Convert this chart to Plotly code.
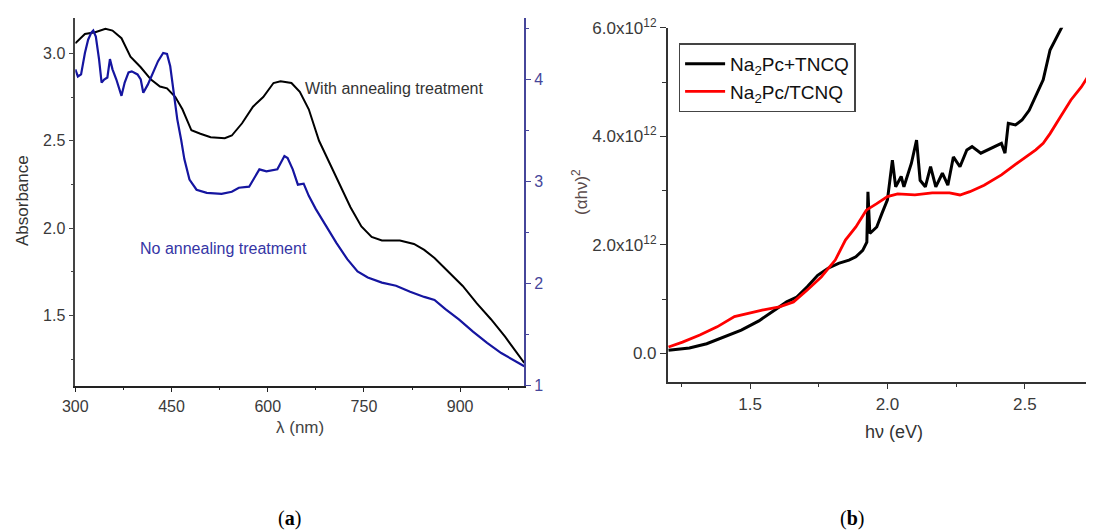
import plotly.graph_objects as go

# ---------------- Panel (a) data ----------------
wl_annealed = [300, 315, 331, 347, 358, 372, 386, 402, 418, 432, 443, 456, 467, 481, 495, 511, 533, 544,
               560, 577, 593, 609, 620, 637, 650, 664, 680, 697, 713, 729, 746, 762, 778, 806, 828, 844,
               860, 882, 904, 926, 948, 970, 986, 1000]
abs_annealed = [3.057, 3.11, 3.12, 3.14, 3.13, 3.086, 2.98, 2.92, 2.85, 2.81, 2.80, 2.75, 2.68, 2.56, 2.54,
                2.52, 2.515, 2.53, 2.60, 2.695, 2.75, 2.83, 2.84, 2.83, 2.78, 2.68, 2.50, 2.37, 2.24, 2.12,
                2.01, 1.95, 1.93, 1.93, 1.91, 1.876, 1.83, 1.75, 1.67, 1.57, 1.48, 1.38, 1.30, 1.23]

wl_raw = [300, 304, 309, 315, 320, 325, 328, 332, 337, 341, 345, 350, 354, 358, 364, 372, 377, 383, 388,
          397, 402, 406, 413, 421, 429, 437, 443, 448, 454, 459, 465, 470, 478, 489, 505, 528, 544, 555,
          571, 587, 598, 615, 626, 631, 639, 647, 656, 664, 675, 691, 707, 724, 740, 756, 778, 800, 822,
          844, 860, 877, 898, 920, 942, 964, 986, 1000]
abs_raw = [4.10, 4.03, 4.05, 4.26, 4.39, 4.46, 4.48, 4.42, 4.20, 3.97, 4.00, 4.02, 4.20, 4.10, 4.00, 3.84,
           3.97, 4.07, 4.08, 4.05, 4.00, 3.87, 3.95, 4.07, 4.18, 4.26, 4.25, 4.13, 3.84, 3.61, 3.41, 3.22,
           3.02, 2.92, 2.89, 2.88, 2.90, 2.94, 2.95, 3.12, 3.10, 3.12, 3.25, 3.23, 3.12, 2.97, 2.98, 2.86,
           2.73, 2.56, 2.40, 2.24, 2.12, 2.06, 2.01, 1.98, 1.92, 1.87, 1.84, 1.75, 1.65, 1.53, 1.42, 1.32,
           1.24, 1.19]

# ---------------- Panel (b) data ----------------
ev_plus = [1.203, 1.279, 1.342, 1.405, 1.468, 1.532, 1.582, 1.633, 1.670, 1.708, 1.746, 1.784, 1.822,
           1.860, 1.885, 1.910, 1.925, 1.929, 1.936, 1.961, 1.980, 2.000, 2.018, 2.030, 2.050, 2.060,
           2.087, 2.106, 2.119, 2.138, 2.157, 2.176, 2.200, 2.220, 2.240, 2.264, 2.289, 2.308, 2.340,
           2.365, 2.390, 2.415, 2.428, 2.440, 2.466, 2.490, 2.516, 2.540, 2.567, 2.592, 2.617, 2.636]
ahv_plus = [0.06, 0.10, 0.18, 0.31, 0.43, 0.60, 0.77, 0.95, 1.04, 1.23, 1.44, 1.57, 1.66, 1.72, 1.78,
            1.90, 2.05, 2.98, 2.21, 2.33, 2.58, 2.83, 3.56, 3.07, 3.26, 3.07, 3.50, 3.93, 3.19, 3.07,
            3.44, 3.07, 3.32, 3.10, 3.62, 3.44, 3.75, 3.81, 3.69, 3.75, 3.81, 3.87, 3.69, 4.24, 4.21,
            4.30, 4.48, 4.73, 5.04, 5.59, 5.84, 6.02]

ev_slash = [1.203, 1.254, 1.317, 1.380, 1.443, 1.494, 1.544, 1.607, 1.658, 1.708, 1.759, 1.810, 1.847,
            1.885, 1.923, 1.961, 2.000, 2.037, 2.100, 2.163, 2.226, 2.264, 2.300, 2.352, 2.415, 2.479,
            2.540, 2.567, 2.592, 2.630, 2.668, 2.706, 2.730, 2.754]
ahv_slash = [0.12, 0.21, 0.34, 0.49, 0.68, 0.74, 0.80, 0.86, 0.95, 1.17, 1.41, 1.72, 2.09, 2.33, 2.64,
             2.76, 2.89, 2.94, 2.92, 2.96, 2.96, 2.92, 2.98, 3.10, 3.29, 3.53, 3.75, 3.87, 4.05, 4.36,
             4.67, 4.91, 5.10, 5.25]
scale_b = 1e12

yb_ticks = [0, 2e12, 4e12, 6e12]
yb_text = ["0.0", "2.0x10<sup>12</sup>", "4.0x10<sup>12</sup>", "6.0x10<sup>12</sup>"]
xb_top_ticks = [1.364, 1.523, 1.845, 2.003, 2.16, 2.482]

W, H = 1094, 530
OFF = 8  # page body margin
def px(x):
    return (x - OFF) / W
def py(y):
    return 1 - (y - OFF) / H

FONT = "Liberation Sans, Arial, sans-serif"
TICKC = "#3a3a3a"
BLUE = "#1515a0"
AXBLUE = "#46469a"

fig = go.Figure()
fig.add_trace(go.Scatter(x=wl_annealed, y=abs_annealed, mode="lines", line=dict(color="black", width=2),
                         xaxis="x", yaxis="y", showlegend=False))
fig.add_trace(go.Scatter(x=wl_raw, y=abs_raw, mode="lines", line=dict(color=BLUE, width=2.2),
                         xaxis="x", yaxis="y3", showlegend=False))
fig.add_trace(go.Scatter(x=ev_plus, y=[v * scale_b for v in ahv_plus], mode="lines",
                         line=dict(color="black", width=3), name="Na<sub>2</sub>Pc+TNCQ",
                         xaxis="x2", yaxis="y2"))
fig.add_trace(go.Scatter(x=ev_slash, y=[v * scale_b for v in ahv_slash], mode="lines",
                         line=dict(color="#ff0000", width=2.8), name="Na<sub>2</sub>Pc/TCNQ",
                         xaxis="x2", yaxis="y2"))

ax_common = dict(showgrid=False, zeroline=False, showline=True, ticks="outside", automargin=False,
                 tickfont=dict(family=FONT, size=16, color=TICKC))

xa_dom = [px(75.3), px(524.3)]
xb_dom = [px(667.7), px(1094)]

fig.update_layout(
    width=W, height=H, margin=dict(l=0, r=0, t=0, b=0, autoexpand=False),
    paper_bgcolor="white", plot_bgcolor="white",
    font=dict(family=FONT),
    xaxis=dict(**ax_common, domain=xa_dom, anchor="y", range=[300, 1000],
               tick0=300, dtick=150, ticklen=5, linecolor="#222", linewidth=1.5, tickcolor="#222",
               minor=dict(dtick=75, ticklen=3, tickcolor="#222", ticks="outside")),
    xaxis3=dict(domain=xa_dom, anchor="y", overlaying="x", side="top", range=[300, 1000],
                showgrid=False, zeroline=False, showline=True, linecolor="#222", linewidth=1.5,
                automargin=False,
                ticks="inside", tick0=300, dtick=75, ticklen=4, tickcolor="#222", showticklabels=False),
    yaxis=dict(**ax_common, domain=[py(385.7), py(18.3)], anchor="x", range=[1.1, 3.2],
               tick0=1.5, dtick=0.5, tickformat=".1f", ticklen=5, linecolor="#444", linewidth=1.5,
               tickcolor="#444", minor=dict(dtick=0.25, ticklen=3, tickcolor="#444", ticks="outside")),
    yaxis3=dict(showgrid=False, zeroline=False, showline=True, ticks="outside", overlaying="y",
                side="right", anchor="x", range=[1, 4.6], tick0=1, dtick=1, ticklen=5, automargin=False,
                linecolor=AXBLUE, linewidth=1.5, tickcolor=AXBLUE,
                tickfont=dict(family=FONT, size=16, color=AXBLUE),
                minor=dict(dtick=0.5, ticklen=3, tickcolor=AXBLUE, ticks="outside")),
    xaxis2=dict(**ax_common, domain=xb_dom, anchor="y2", range=[1.2, 2.752],
                tick0=1.5, dtick=0.5, tickformat=".1f", ticklen=6, linecolor="#333", linewidth=1.5,
                tickcolor="#333", minor=dict(dtick=0.25, ticklen=4, tickcolor="#333", ticks="outside")),
    xaxis4=dict(domain=xb_dom, anchor="y2", overlaying="x2", side="top", range=[1.2, 2.752],
                showgrid=False, zeroline=False, showline=True, linecolor="#333", linewidth=1.5,
                automargin=False,
                ticks="inside", tickvals=xb_top_ticks, ticklen=4, tickcolor="#333", showticklabels=False),
    yaxis2=dict(**ax_common, domain=[py(381.7), py(27.7)], anchor="x2", range=[-0.52e12, 6.001e12],
                tickvals=yb_ticks, ticktext=yb_text, ticklen=6, linecolor="#333", linewidth=1.5,
                tickcolor="#333", minor=dict(tickvals=[1e12, 3e12, 5e12], ticklen=4, tickcolor="#333",
                                             ticks="outside")),
    legend=dict(x=px(678.6), y=py(43.3), xanchor="left", yanchor="top",
                font=dict(family=FONT, size=19, color="#111"),
                bordercolor="#444", borderwidth=1.5, bgcolor="white",
                tracegroupgap=0, itemwidth=40),
)
fig.update_layout(xaxis2_tickfont_size=17, yaxis2_tickfont_size=17)

C = dict(xanchor="center", yanchor="middle", showarrow=False, xref="paper", yref="paper")
ann = [
    dict(text="Absorbance", x=px(22), y=py(201), textangle=-90,
         font=dict(family=FONT, size=17, color="#333"), **C),
    dict(text="λ (nm)", x=px(300), y=py(427),
         font=dict(family=FONT, size=17, color="#444"), **C),
    dict(text="With annealing treatment", x=655.5, y=2.796, xref="x", yref="y", xanchor="left",
         yanchor="middle", showarrow=False, font=dict(family=FONT, size=16, color="#333")),
    dict(text="No annealing treatment", x=398, y=1.886, xref="x", yref="y", xanchor="left",
         yanchor="middle", showarrow=False, font=dict(family=FONT, size=16, color="#3535a5")),
    dict(text="(αhν)<sup>2</sup>", x=px(580), y=py(192), textangle=-90,
         font=dict(family=FONT, size=17, color="#5a4a4a"), **C),
    dict(text="hν (eV)", x=px(894), y=py(432),
         font=dict(family=FONT, size=18, color="#333"), **C),
    dict(text="(<b>a</b>)", x=px(289), y=py(518),
         font=dict(family="Liberation Serif, Times New Roman, serif", size=20, color="black"), **C),
    dict(text="(<b>b</b>)", x=px(852), y=py(518),
         font=dict(family="Liberation Serif, Times New Roman, serif", size=20, color="black"), **C),
]
fig.update_layout(annotations=ann)

fig.write_html("out.html")
